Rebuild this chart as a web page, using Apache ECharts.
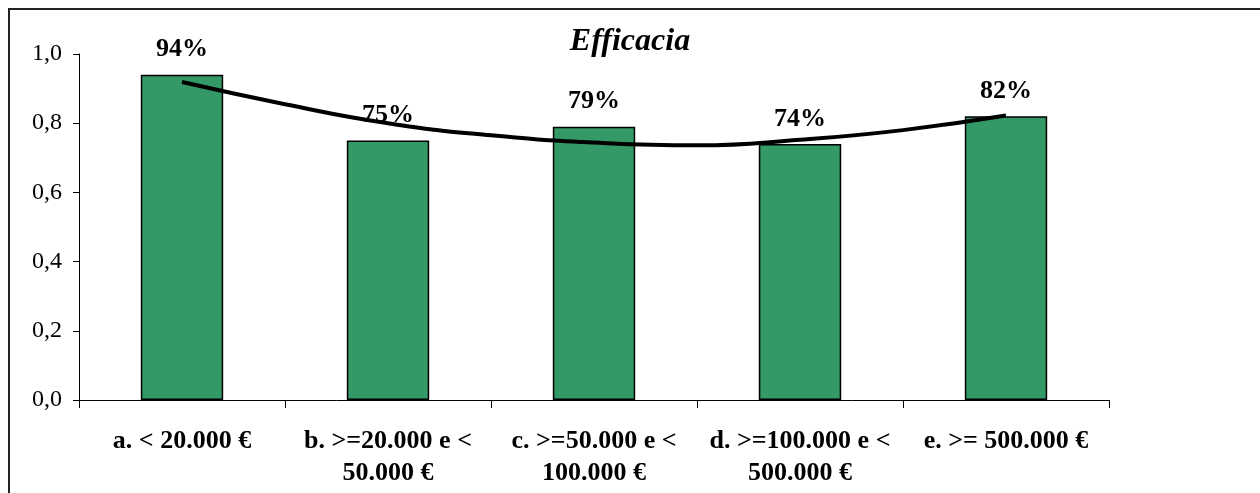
<!DOCTYPE html>
<html>
<head>
<meta charset="utf-8">
<script src="https://cdn.jsdelivr.net/npm/echarts@6/dist/echarts.min.js"></script>
<style>
  html, body { margin: 0; padding: 0; background: #fff; }
  #frame {
    position: absolute; left: 8px; top: 8px; width: 1260px; height: 493px;
    border-top: 2px solid #222; border-left: 2px solid #222;
  }
  #main { position: absolute; left: 0; top: 0; width: 1260px; height: 493px; }
</style>
</head>
<body>
<div id="frame"></div>
<div id="main"></div>
<script>
// categorie (fasce di importo)
const categories = [
  "a. < 20.000 €",
  "b. >=20.000 e <\n50.000 €",
  "c. >=50.000 e <\n100.000 €",
  "d. >=100.000 e <\n500.000 €",
  "e. >= 500.000 €"
];
// efficacia per fascia
const efficacia = [0.94, 0.75, 0.79, 0.74, 0.82];
// linea di tendenza (posizione in categorie, valore)
const trendX = [0.5, 1, 1.5, 2, 2.5, 3, 3.5, 4, 4.5];
const trendY = [0.919, 0.855, 0.80, 0.765, 0.744, 0.736, 0.752, 0.78, 0.822];

const serif = "'Liberation Serif', 'DejaVu Serif', serif";
let chart = echarts.init(document.getElementById("main"));

let option = {
  animation: false,
  title: {
    text: "Efficacia",
    left: 625,
    top: 21,
    textAlign: "center",
    textStyle: { fontFamily: serif, fontSize: 32, fontWeight: "bold", fontStyle: "italic", color: "#000" }
  },
  grid: { left: 79, right: 151, top: 54, bottom: 93 },
  xAxis: [
    {
      type: "category",
      data: categories,
      axisLine: { lineStyle: { color: "#000", width: 1 } },
      axisTick: { show: true, length: 8, lineStyle: { color: "#000" } },
      axisLabel: {
        interval: 0,
        margin: 25,
        fontFamily: serif,
        fontSize: 26,
        fontWeight: "bold",
        color: "#000",
        lineHeight: 32,
        align: "center"
      }
    },
    {
      type: "value",
      min: 0,
      max: 5,
      show: false
    }
  ],
  yAxis: {
    type: "value",
    min: 0,
    max: 1,
    interval: 0.2,
    splitLine: { show: false },
    axisLine: { show: true, lineStyle: { color: "#000", width: 1 } },
    axisTick: { show: true, length: 6, lineStyle: { color: "#000" } },
    axisLabel: {
      margin: 17,
      fontFamily: serif,
      fontSize: 24,
      color: "#000",
      formatter: v => v.toFixed(1).replace(".", ",")
    }
  },
  series: [
    {
      type: "bar",
      data: efficacia,
      barWidth: "40%",
      itemStyle: { color: "#339966", borderColor: "#000", borderWidth: 1.5 },
      label: {
        show: true,
        position: "top",
        distance: 12,
        fontFamily: serif,
        fontSize: 26,
        fontWeight: "bold",
        color: "#000",
        formatter: p => Math.round(p.value * 100) + "%"
      }
    },
    {
      type: "line",
      xAxisIndex: 1,
      data: trendX.map((x, i) => [x, trendY[i]]),
      smooth: true,
      showSymbol: false,
      lineStyle: { color: "#000", width: 4 },
      z: 5
    }
  ]
};

chart.setOption(option);
</script>
</body>
</html>
